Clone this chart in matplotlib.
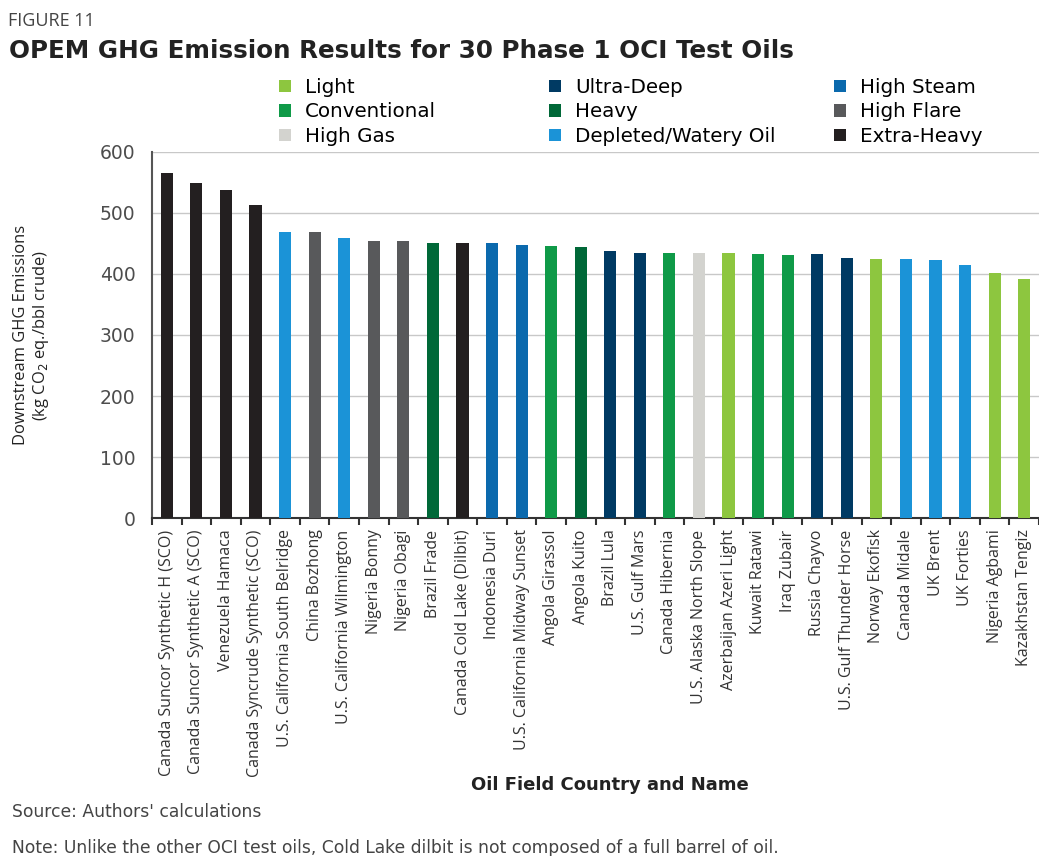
import numpy as np
import matplotlib.pyplot as plt
from matplotlib.patches import Patch

# oil fields, emissions (kg CO2 eq./bbl crude), category
fields = ['Canada Suncor Synthetic H (SCO)', 'Canada Suncor Synthetic A (SCO)',
          'Venezuela Hamaca', 'Canada Syncrude Synthetic (SCO)',
          'U.S. California South Belridge', 'China Bozhong',
          'U.S. California Wilmington', 'Nigeria Bonny', 'Nigeria Obagi',
          'Brazil Frade', 'Canada Cold Lake (Dilbit)', 'Indonesia Duri',
          'U.S. California Midway Sunset', 'Angola Girassol', 'Angola Kuito',
          'Brazil Lula', 'U.S. Gulf Mars', 'Canada Hibernia',
          'U.S. Alaska North Slope', 'Azerbaijan Azeri Light', 'Kuwait Ratawi',
          'Iraq Zubair', 'Russia Chayvo', 'U.S. Gulf Thunder Horse',
          'Norway Ekofisk', 'Canada Midale', 'UK Brent', 'UK Forties',
          'Nigeria Agbami', 'Kazakhstan Tengiz']
emissions = [565, 548, 538, 512, 469, 469, 458, 454, 454, 451, 451, 451, 448,
             445, 444, 438, 435, 434, 435, 435, 432, 431, 432, 426, 425, 425,
             423, 415, 401, 392]
category = ['Extra-Heavy', 'Extra-Heavy', 'Extra-Heavy', 'Extra-Heavy',
            'Depleted/Watery Oil', 'High Flare', 'Depleted/Watery Oil',
            'High Flare', 'High Flare', 'Heavy', 'Extra-Heavy', 'High Steam',
            'High Steam', 'Conventional', 'Heavy', 'Ultra-Deep', 'Ultra-Deep',
            'Conventional', 'High Gas', 'Light', 'Conventional', 'Conventional',
            'Ultra-Deep', 'Ultra-Deep', 'Light', 'Depleted/Watery Oil',
            'Depleted/Watery Oil', 'Depleted/Watery Oil', 'Light', 'Light']

# legend columns as laid out in the figure
legend_cols = [['Light', 'Conventional', 'High Gas'],
               ['Ultra-Deep', 'Heavy', 'Depleted/Watery Oil'],
               ['High Steam', 'High Flare', 'Extra-Heavy']]
colors = {'Light': '#8dc63f', 'Conventional': '#0f9a48', 'High Gas': '#d3d3cf',
          'Ultra-Deep': '#003a63', 'Heavy': '#006838',
          'Depleted/Watery Oil': '#1b93d7', 'High Steam': '#0b69ad',
          'High Flare': '#58595b', 'Extra-Heavy': '#231f20'}

plt.rcParams['font.family'] = ['DejaVu Sans']

fig = plt.figure(figsize=(10.39, 8.56), dpi=100)
ax = fig.add_axes([0.1463, 0.3945, 0.8537, 0.4283])

x = np.arange(len(fields))
ax.bar(x, emissions, width=0.41, color=[colors[c] for c in category], zorder=3)

ax.set_xlim(-0.5, 29.3)
ax.set_ylim(0, 600)
ax.set_yticks(range(0, 601, 100))
ax.yaxis.grid(True, color='#c8c8c8', linewidth=1.0, zorder=0)
ax.tick_params(axis='y', length=0, pad=12, labelsize=13.5, labelcolor='#4d4d4d')

ax.set_xticks(x)
ax.set_xticklabels(fields, rotation=90, fontsize=11.5, color='#333333',
                   family=['Open Sans', 'DejaVu Sans'])
ax.set_xticks(np.arange(-0.5, 30, 1), minor=True)
ax.tick_params(axis='x', which='major', length=0, pad=8)
ax.tick_params(axis='x', which='minor', length=5, width=1.5, color='#333333', direction='out')

for s in ['top', 'right']:
    ax.spines[s].set_visible(False)
ax.spines['left'].set_color('#555555')
ax.spines['left'].set_linewidth(1.5)
ax.spines['bottom'].set_color('#333333')
ax.spines['bottom'].set_linewidth(1.5)

fig.text(0.031, 0.6086, 'Downstream GHG Emissions\n(kg CO$_2$ eq./bbl crude)',
         rotation=90, ha='center', va='center', fontsize=11.9, color='#222222',
         linespacing=1.15, family=['Open Sans', 'DejaVu Sans'])
fig.text(0.587, 0.083, 'Oil Field Country and Name', ha='center', va='center',
         fontsize=13, fontweight='bold', color='#222222')

for col, xpos in zip(legend_cols, [0.2685, 0.5284, 0.8027]):
    handles = [Patch(facecolor=colors[c], label=c) for c in col]
    fig.legend(handles=handles, loc='upper left', bbox_to_anchor=(xpos, 0.909),
               frameon=False, fontsize=14.3, handlelength=0.6, handleheight=0.6,
               handletextpad=0.7, labelspacing=0.28, borderpad=0, borderaxespad=0)

fig.text(0.008, 0.976, 'FIGURE 11', fontsize=13, color='#444444', va='center',
         family='Open Sans')
fig.text(0.009, 0.941, 'OPEM GHG Emission Results for 30 Phase 1 OCI Test Oils',
         fontsize=17.7, fontweight='bold', color='#222222', va='center')
fig.text(0.012, 0.051, "Source: Authors' calculations", fontsize=12.3, color='#444444',
         va='center')
fig.text(0.012, 0.009, 'Note: Unlike the other OCI test oils, Cold Lake dilbit is not '
         'composed of a full barrel of oil.', fontsize=12.3, color='#444444', va='center')

fig.savefig('out.png', dpi=100)
